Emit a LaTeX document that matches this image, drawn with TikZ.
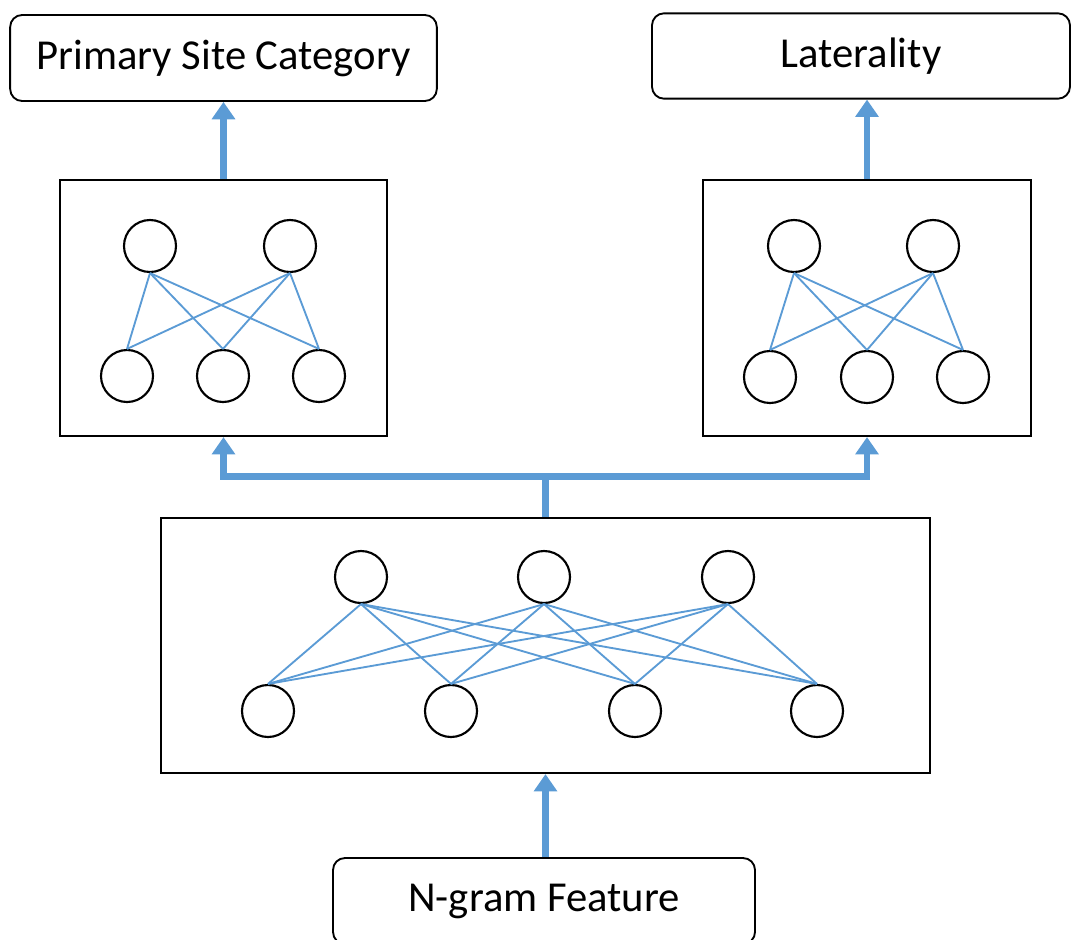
\documentclass[tikz,border=0pt]{standalone}
\usepackage{fontspec}
\setmainfont{Carlito}
\usetikzlibrary{arrows.meta}

\definecolor{wireblue}{RGB}{91,155,213}

\tikzset{
  unit/.style={circle, draw=black, line width=1.6pt, minimum size=39pt, inner sep=0pt},
  wire/.style={wireblue, line width=1.4pt},
  layerbox/.style={draw=black, line width=1.6pt, inner sep=0pt},
  labelbox/.style={draw=black, line width=1.4pt, rounded corners=9pt, inner sep=0pt, font=\fontsize{32}{38}\selectfont},
  flow/.style={wireblue, line width=5.2pt, -{Triangle[width=17pt,length=13pt]}},
}

\begin{document}
\begin{tikzpicture}[x=0.75pt, y=-0.75pt]

\useasboundingbox (0,0) rectangle (1071,939);

% outputs
\node[labelbox, minimum width=320pt, minimum height=64.5pt] (prim) at (223.5,58) {Primary Site Category};
\node[labelbox, minimum width=313.5pt, minimum height=64pt] (lat) at (861,56) {Laterality};

% task layers
\node[layerbox, minimum width=245.25pt, minimum height=192pt] (lnet) at (223.5,308) {};
\node[layerbox, minimum width=246pt, minimum height=192pt] (rnet) at (867,308) {};

% shared layer
\node[layerbox, minimum width=576.75pt, minimum height=191.25pt] (enc) at (545.5,645.5) {};

% input
\node[labelbox, minimum width=316.5pt, minimum height=64.5pt] (feat) at (544,901) {N-gram Feature};

% units, left task layer
\node[unit] (la1) at (150,246) {};
\node[unit] (la2) at (290,246) {};
\node[unit] (lb1) at (127,376) {};
\node[unit] (lb2) at (223,376) {};
\node[unit] (lb3) at (319,376) {};

% units, right task layer
\node[unit] (ra1) at (794,246) {};
\node[unit] (ra2) at (933,246) {};
\node[unit] (rb1) at (770,377) {};
\node[unit] (rb2) at (867,377) {};
\node[unit] (rb3) at (963,377) {};

% units, shared layer
\node[unit] (sa1) at (361,577) {};
\node[unit] (sa2) at (544,577) {};
\node[unit] (sa3) at (728,577) {};
\node[unit] (sb1) at (268,711) {};
\node[unit] (sb2) at (451,711) {};
\node[unit] (sb3) at (635,711) {};
\node[unit] (sb4) at (817,711) {};

% connections
\foreach \a in {1,2} {
  \foreach \b in {1,2,3} {
    \draw[wire] (la\a.south) -- (lb\b.north);
    \draw[wire] (ra\a.south) -- (rb\b.north);
  }
}
\foreach \a in {1,2,3} {
  \foreach \b in {1,2,3,4}
    \draw[wire] (sa\a.south) -- (sb\b.north);
}

% data flow
\path (enc.north) ++(0,-40) coordinate (split);
\draw[flow] (enc.south |- feat.north) -- (enc.south);
\draw[flow] (enc.north) -- (split) -| (lnet.south);
\draw[flow] (split) -| (rnet.south);
\draw[flow] (lnet.north) -- (prim.south);
\draw[flow] (rnet.north) -- (rnet.north |- lat.south);

\end{tikzpicture}
\end{document}
